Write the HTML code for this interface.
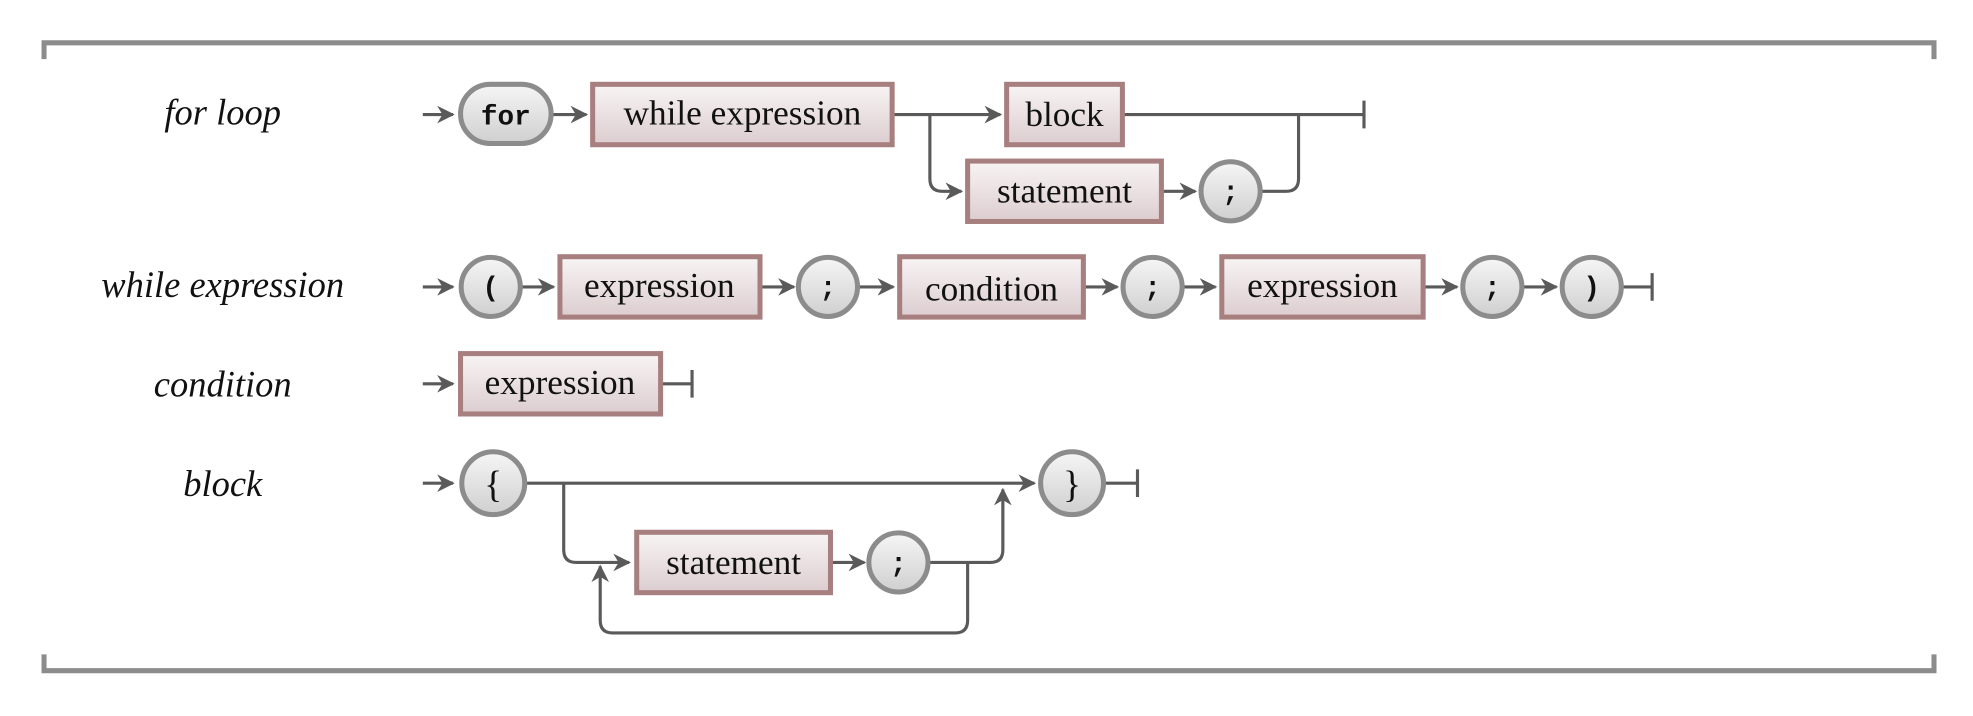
<!DOCTYPE html>
<html><head><meta charset="utf-8"><style>html,body{margin:0;padding:0;background:#fff}svg{display:block}</style></head>
<body>
<svg width="1973" height="716" viewBox="0 0 1568 569" xmlns="http://www.w3.org/2000/svg">
<defs>
<linearGradient id="gb" x1="0" y1="0" x2="0" y2="1"><stop offset="0" stop-color="#f8f4f4"/><stop offset="1" stop-color="#dccdcf"/></linearGradient>
<linearGradient id="gc" x1="0" y1="0" x2="0" y2="1"><stop offset="0" stop-color="#f6f6f6"/><stop offset="1" stop-color="#cfcfcf"/></linearGradient>
<marker id="a" viewBox="0 0 10 10" refX="9" refY="5" markerWidth="14" markerHeight="14" orient="auto" markerUnits="userSpaceOnUse"><path d="M0,0 L10,5 L0,10 L3,5 z" fill="#5a5a5a"/></marker>
</defs>
<g fill="none" stroke="#8c8c8c" stroke-width="4">
<path d="M35,47 V34 H1537 V47"/>
<path d="M35,520 V533 H1537 V520"/>
</g>
<g font-family="Liberation Serif, serif" font-style="italic" font-size="29" text-anchor="middle" fill="#111">
<text x="177" y="99">for loop</text>
<text x="177" y="236">while expression</text>
<text x="177" y="315">condition</text>
<text x="177" y="394">block</text>
</g>
<g fill="none" stroke="#5a5a5a" stroke-width="2.5" marker-end="url(#a)">
<path d="M336,91 H360"/><path d="M438,91 H466"/><path d="M709,91 H795"/>
<path d="M739,91 V142 Q739,152 749,152 H764"/>
<path d="M923,152 H950"/>
<path d="M336,228 H360"/><path d="M414,228 H440"/><path d="M604,228 H631"/><path d="M682,228 H710"/><path d="M861,228 H888"/><path d="M940,228 H966"/><path d="M1131,228 H1158"/><path d="M1210,228 H1237"/>
<path d="M336,305 H360"/>
<path d="M336,384 H360"/><path d="M418,384 H822"/>
<path d="M448,384 V437 Q448,447 458,447 H500"/>
<path d="M660,447 H687"/>
<path d="M739,447 H787 Q797,447 797,437 V389"/>
<path d="M769,447 V493 Q769,503 759,503 H487 Q477,503 477,493 V450"/>
</g>
<g fill="none" stroke="#5a5a5a" stroke-width="2.5">
<path d="M892,91 H1084 M1084,80 V102"/>
<path d="M1001,152 H1022 Q1032,152 1032,142 V91"/>
<path d="M1289,228 H1313 M1313,217 V239"/>
<path d="M525,305 H550 M550,294 V316"/>
<path d="M878,384 H904 M904,373 V395"/>
</g>
<g stroke="#a87f7f" stroke-width="4" fill="url(#gb)">
<rect x="471" y="67" width="238" height="48"/>
<rect x="800" y="67" width="92" height="48"/>
<rect x="769" y="128" width="154" height="48"/>
<rect x="445" y="204" width="159" height="48"/>
<rect x="715" y="204" width="146" height="48"/>
<rect x="971" y="204" width="160" height="48"/>
<rect x="366" y="281" width="159" height="48"/>
<rect x="506" y="423" width="154" height="48"/>
</g>
<g stroke="#8c8c8c" stroke-width="4" fill="url(#gc)">
<rect x="366" y="67" width="72" height="47" rx="23.5"/>
<circle cx="978" cy="152" r="23.5"/>
<circle cx="390" cy="228" r="23.5"/>
<circle cx="658" cy="228" r="23.5"/>
<circle cx="916" cy="228" r="23.5"/>
<circle cx="1186" cy="228" r="23.5"/>
<circle cx="1265" cy="228" r="23.5"/>
<circle cx="392" cy="384" r="25"/>
<circle cx="852" cy="384" r="25"/>
<circle cx="714" cy="447" r="23.5"/>
</g>
<g font-family="Liberation Serif, serif" font-size="28" text-anchor="middle" fill="#111">
<text x="590" y="99">while expression</text>
<text x="846" y="100">block</text>
<text x="846" y="161">statement</text>
<text x="524" y="236">expression</text>
<text x="788" y="239">condition</text>
<text x="1051" y="236">expression</text>
<text x="445" y="313">expression</text>
<text x="583" y="456">statement</text>
<text x="392" y="395" font-size="30">{</text>
<text x="852" y="395" font-size="30">}</text>
</g>
<g font-family="Liberation Mono, monospace" font-weight="bold" font-size="22" text-anchor="middle" fill="#111">
<text x="402" y="99">for</text>
<text x="978" y="159">;</text>
<text x="390" y="235">(</text>
<text x="658" y="235">;</text>
<text x="916" y="235">;</text>
<text x="1186" y="235">;</text>
<text x="1265" y="235">)</text>
<text x="714" y="454">;</text>
</g>
</svg>
</body></html>
